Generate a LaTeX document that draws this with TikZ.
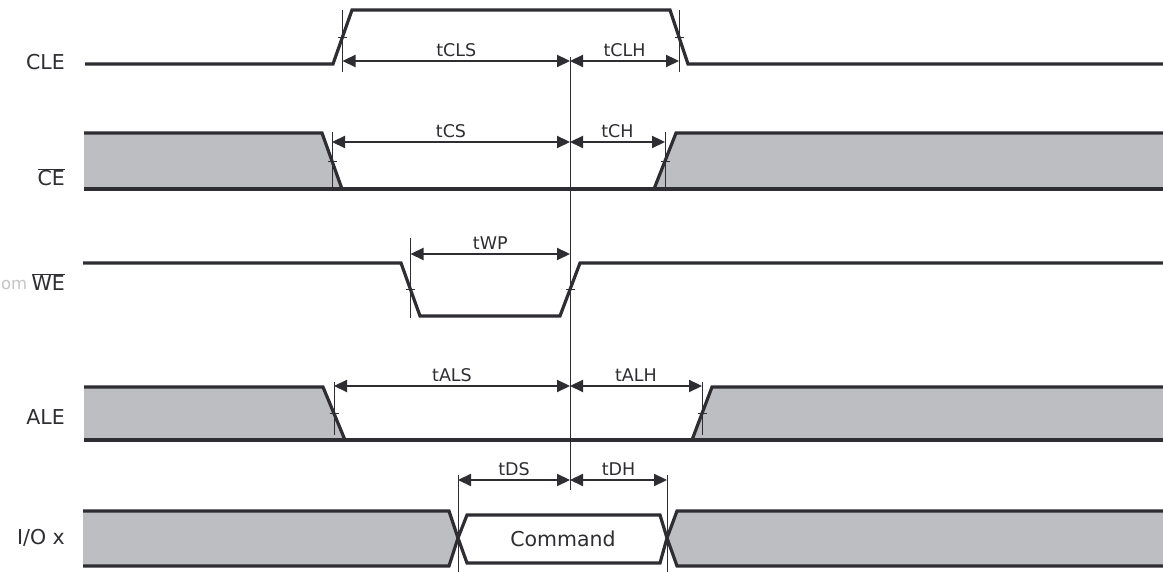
\documentclass[tikz,border=0pt]{standalone}
\usepackage{fontspec}
\setmainfont{DejaVu Sans}
\usetikzlibrary{arrows.meta}
\definecolor{sigcol}{RGB}{45,45,50}
\definecolor{buscol}{RGB}{189,190,194}
\definecolor{markcol}{RGB}{196,196,196}

\begin{document}
\begin{tikzpicture}[line join=miter,
  sig/.style={draw=sigcol,line width=3.2bp},
  bus/.style={fill=buscol},
  tick/.style={draw=sigcol,line width=0.8bp},
  dim/.style={draw=sigcol,line width=2.2bp,{Triangle[length=13bp,width=12bp]}-{Triangle[length=13bp,width=12bp]}},
  sname/.style={anchor=east,inner sep=0bp,font=\fontsize{20.5bp}{24bp}\selectfont,text=sigcol},
  tname/.style={midway,above=3bp,inner sep=0bp,font=\fontsize{17.5bp}{20bp}\selectfont,text=sigcol}]
\useasboundingbox (0bp,0bp) rectangle (1163bp,572bp);
%%
\node (CLE) [sname] at (65bp,510bp) {CLE};
  \node (CE) [sname] at (65bp,395bp) {$\overline{\mbox{CE}}$};
  \node (WE) [sname] at (65bp,290bp) {$\overline{\mbox{WE}}$};
  \node (ALE) [sname] at (65bp,155bp) {ALE};
  \node (IO) [sname] at (65bp,34bp) {I/O x};
  \node (wm) [sname,text=markcol,font=\fontsize{16.5bp}{20bp}\selectfont] at (27.5bp,287bp) {om};
%
% CLE
  \draw [sig] (85bp,508bp) -- (333bp,508bp) -- (352bp,562bp) -- (670bp,562bp) -- (688bp,508bp) -- (1163bp,508bp);
% CE
  \fill [bus] (84bp,439bp) -- (322bp,439bp) -- (342bp,383bp) -- (84bp,383bp) -- cycle;
  \fill [bus] (654bp,383bp) -- (676bp,439bp) -- (1163bp,439bp) -- (1163bp,383bp) -- cycle;
  \draw [sig] (84bp,439bp) -- (322bp,439bp) -- (342bp,383bp);
  \draw [sig] (654bp,383bp) -- (676bp,439bp) -- (1163bp,439bp);
  \draw [sig] (84bp,383bp) -- (1163bp,383bp);
% WE
  \draw [sig] (83bp,309bp) -- (401bp,309bp) -- (420bp,256bp) -- (560bp,256bp) -- (580bp,309bp) -- (1163bp,309bp);
% ALE
  \fill [bus] (84bp,185bp) -- (323bp,185bp) -- (345bp,132bp) -- (84bp,132bp) -- cycle;
  \fill [bus] (692bp,132bp) -- (712bp,185bp) -- (1163bp,185bp) -- (1163bp,132bp) -- cycle;
  \draw [sig] (84bp,185bp) -- (323bp,185bp) -- (345bp,132bp);
  \draw [sig] (692bp,132bp) -- (712bp,185bp) -- (1163bp,185bp);
  \draw [sig] (84bp,132bp) -- (1163bp,132bp);
% I/O
  \fill [bus] (83bp,61bp) -- (449bp,61bp) -- (458bp,34bp) -- (449bp,6bp) -- (83bp,6bp) -- cycle;
  \fill [bus] (1163bp,61bp) -- (677bp,61bp) -- (667bp,34bp) -- (677bp,6bp) -- (1163bp,6bp) -- cycle;
  \draw [sig] (83bp,61bp) -- (449bp,61bp) -- (458bp,34bp) -- (449bp,6bp) -- (83bp,6bp);
  \draw [sig] (1163bp,61bp) -- (677bp,61bp) -- (667bp,34bp) -- (677bp,6bp) -- (1163bp,6bp);
  \draw [sig] (458bp,34bp) -- (467bp,57bp) -- (660bp,57bp) -- (667bp,34bp) -- (660bp,9bp) -- (467bp,9bp) -- cycle;
  \node (CMD) [font=\fontsize{20.5bp}{24bp}\selectfont,text=sigcol] at (563bp,33bp) {Command};
%
% ticks
  \draw [tick,line width=1bp] (570bp,82bp) -- (570bp,515bp);
  \draw [tick] (342.5bp,500bp) -- (342.5bp,562bp);
  \draw [tick] (338bp,535bp) -- (347bp,535bp);
  \draw [tick] (679bp,500bp) -- (679bp,562bp);
  \draw [tick] (674.5bp,535bp) -- (683.5bp,535bp);
  \draw [tick] (332bp,384bp) -- (332bp,440bp);
  \draw [tick] (327.5bp,411bp) -- (336.5bp,411bp);
  \draw [tick] (665bp,384bp) -- (665bp,440bp);
  \draw [tick] (660.5bp,411bp) -- (669.5bp,411bp);
  \draw [tick] (410.5bp,254bp) -- (410.5bp,334bp);
  \draw [tick] (406bp,282.5bp) -- (415bp,282.5bp);
  \draw [tick] (565.5bp,282.5bp) -- (574.5bp,282.5bp);
  \draw [tick] (334bp,137bp) -- (334bp,190bp);
  \draw [tick] (329.5bp,158.5bp) -- (338.5bp,158.5bp);
  \draw [tick] (702bp,137bp) -- (702bp,190bp);
  \draw [tick] (697.5bp,158.5bp) -- (706.5bp,158.5bp);
  \draw [tick] (458bp,0bp) -- (458bp,97bp);
  \draw [tick] (667bp,0bp) -- (667bp,97bp);
%
% timing
  \coordinate (cls) at (342.5bp,511bp);
  \coordinate (r1) at (570bp,511bp);
  \coordinate (clh) at (679bp,511bp);
  \coordinate (cs) at (332bp,430bp);
  \coordinate (r2) at (570bp,430bp);
  \coordinate (ch) at (665bp,430bp);
  \coordinate (wp) at (410.5bp,318bp);
  \coordinate (r3) at (570bp,318bp);
  \coordinate (als) at (334bp,186bp);
  \coordinate (r4) at (570bp,186bp);
  \coordinate (alh) at (702bp,186bp);
  \coordinate (ds) at (458bp,92bp);
  \coordinate (r5) at (570bp,92bp);
  \coordinate (dh) at (667bp,92bp);
  \draw [dim] (cls) -- (r1) node [tname] (tCLS) {tCLS};
  \draw [dim] (r1) -- (clh) node [tname] (tCLH) {tCLH};
  \draw [dim] (cs) -- (r2) node [tname] (tCS) {tCS};
  \draw [dim] (r2) -- (ch) node [tname] (tCH) {tCH};
  \draw [dim] (wp) -- (r3) node [tname] (tWP) {tWP};
  \draw [dim] (als) -- (r4) node [tname] (tALS) {tALS};
  \draw [dim] (r4) -- (alh) node [tname] (tALH) {tALH};
  \draw [dim] (ds) -- (r5) node [tname] (tDS) {tDS};
  \draw [dim] (r5) -- (dh) node [tname] (tDH) {tDH};
%
\end{tikzpicture}
\end{document}
